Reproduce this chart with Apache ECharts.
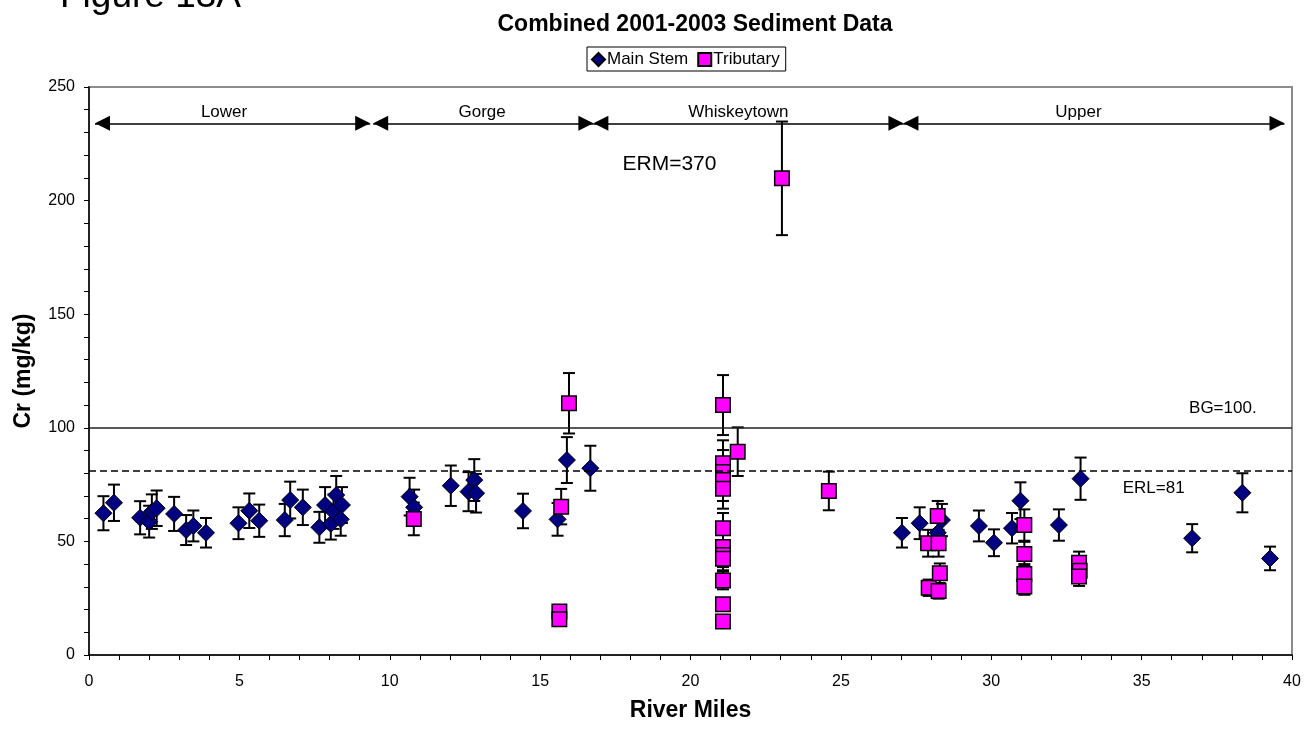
<!DOCTYPE html>
<html>
<head>
<meta charset="utf-8">
<title>Combined 2001-2003 Sediment Data</title>
<script src="https://cdn.jsdelivr.net/npm/echarts@6/dist/echarts.min.js"></script>
<style>
  html, body { margin: 0; padding: 0; background: #fff; }
  #main { width: 1306px; height: 735px; }
</style>
</head>
<body>
<div id="main"></div>
<script>
// Main Stem: river mile, Cr (mg/kg), +/- error
var msMiles = [0.48, 0.83, 1.70, 2.00, 2.09, 2.25, 2.83, 3.23, 3.47, 3.89, 4.97, 5.33, 5.66, 6.51, 6.69, 7.11, 7.66, 7.85, 8.04, 8.13, 8.22, 8.41, 8.37,
    10.66, 10.81, 12.03, 12.62, 12.81, 12.87, 14.43, 15.58, 15.89, 16.67,
    27.03, 27.62, 28.22, 28.36, 29.59, 30.09, 30.69, 30.97, 32.25, 32.97, 36.68, 38.35, 39.27];
var msCr = [62.4, 67.0, 60.4, 58.7, 63.1, 64.6, 62.1, 55.0, 56.8, 53.8, 58.0, 63.5, 59.1, 59.4, 68.2, 65.0, 56.2, 66.0, 57.7, 63.1, 70.4, 66.0, 59.7,
    69.7, 65.0, 74.5, 71.9, 77.0, 71.2, 63.4, 59.7, 85.8, 82.2,
    53.8, 58.0, 53.8, 59.4, 56.8, 49.4, 55.8, 67.9, 57.2, 77.6, 51.4, 71.4, 42.5];
var msErr = [7.5, 8.0, 7.3, 7.0, 7.6, 7.8, 7.5, 6.6, 6.8, 6.5, 7.0, 7.6, 7.1, 7.1, 8.1, 7.8, 6.8, 7.9, 6.9, 7.6, 8.4, 7.9, 7.2,
    8.3, 7.8, 8.9, 8.6, 9.2, 8.5, 7.6, 7.2, 10.1, 9.9,
    6.5, 7.0, 6.5, 7.1, 6.8, 5.9, 6.7, 8.1, 6.9, 9.3, 6.2, 8.6, 5.2];

// Tributary: river mile, Cr (mg/kg), +/- error
var trMiles = [10.80, 15.64, 15.64, 15.70, 15.96,
    21.08, 21.08, 21.08, 21.08, 21.08, 21.08, 21.08, 21.08, 21.08, 21.08, 21.08, 21.08,
    21.57, 23.04, 24.60,
    27.92, 27.90, 28.22, 28.25, 28.25, 28.29,
    31.10, 31.10, 31.10, 31.10, 32.92, 32.94, 32.92];
var trCr = [59.9, 19.1, 15.7, 65.3, 110.8,
    110.0, 84.4, 80.5, 77.0, 73.2, 55.8, 47.5, 44.0, 42.4, 32.8, 22.3, 14.7,
    89.5, 209.8, 72.2,
    29.6, 49.2, 61.2, 49.2, 28.2, 36.0,
    57.2, 44.5, 35.7, 30.1, 40.6, 37.1, 34.5];
var trErr = [7.2, 2.3, 1.9, 7.8, 13.3,
    13.2, 10.1, 9.7, 9.2, 8.8, 6.7, 5.7, 5.3, 5.1, 3.9, 2.7, 1.8,
    10.7, 25.0, 8.5,
    3.6, 5.9, 6.6, 5.9, 3.4, 4.3,
    6.9, 5.3, 4.3, 3.6, 4.9, 4.5, 4.1];

// reach arrows along the top
var regionNames = ['Lower', 'Gorge', 'Whiskeytown', 'Upper'];
var regionStart = [0.2, 9.45, 16.77, 27.08];
var regionEnd = [9.35, 16.77, 27.08, 39.75];
var regionLabelX = [4.49, 13.07, 21.59, 32.9];
var regionLevel = 234;
var regionLabelY = 239;

// reference lines
var bgLevel = 100;
var erlLevel = 81;

// text notes on the plot
var noteText = ['ERM=370', 'BG=100.', 'ERL=81'];
var noteX = [19.3, 37.7, 35.4];
var noteY = [216, 108.5, 73.5];
var noteSize = [21, 17, 17];

var chart = echarts.init(document.getElementById('main'));
var FONT = 'Arial, "Liberation Sans", sans-serif';

function pairs(xs, ys) {
    return xs.map(function (x, i) { return [x, ys[i]]; });
}
function errData(xs, ys, es) {
    return xs.map(function (x, i) { return [x, ys[i] - es[i], ys[i] + es[i]]; });
}

function renderErr(params, api) {
    var x = api.value(0);
    var lo = api.coord([x, api.value(1)]);
    var hi = api.coord([x, api.value(2)]);
    var w = 6;
    var st = { stroke: '#000', lineWidth: 2 };
    return {
        type: 'group',
        children: [
            { type: 'line', shape: { x1: lo[0], y1: lo[1], x2: hi[0], y2: hi[1] }, style: st },
            { type: 'line', shape: { x1: lo[0] - w, y1: lo[1], x2: lo[0] + w, y2: lo[1] }, style: st },
            { type: 'line', shape: { x1: hi[0] - w, y1: hi[1], x2: hi[0] + w, y2: hi[1] }, style: st }
        ]
    };
}

var arrows = regionNames.map(function (n, i) {
    return [{ coord: [regionStart[i], regionLevel] }, { coord: [regionEnd[i], regionLevel] }];
});

var notes = noteText.map(function (t, i) {
    return { value: [noteX[i], noteY[i]], name: t, label: { fontSize: noteSize[i] } };
}).concat(regionNames.map(function (n, i) {
    return { value: [regionLabelX[i], regionLabelY], name: n, label: { fontSize: 17 } };
}));

var option = {
    animation: false,
    backgroundColor: '#fff',
    textStyle: { fontFamily: FONT, color: '#000' },
    title: {
        text: 'Combined 2001-2003 Sediment Data',
        left: 690, top: 8, textAlign: 'center',
        textStyle: { fontSize: 23, fontWeight: 'bold', color: '#000', fontFamily: FONT }
    },
    graphic: [{
        type: 'text', left: 60, top: -22,
        style: { text: 'Figure 13A', fontSize: 37, fill: '#000', fontFamily: FONT }
    }],
    legend: {
        left: 587, top: 47,
        data: ['Main Stem', 'Tributary'],
        borderColor: '#000', borderWidth: 1, borderRadius: 0,
        padding: [4, 6, 3, 4], itemGap: 9, itemWidth: 13, itemHeight: 13,
        textStyle: { fontSize: 17, color: '#000', padding: [0, 0, 0, -3] }
    },
    grid: {
        left: 89, top: 87, width: 1203, height: 568,
        show: true, borderColor: '#8c8c8c', borderWidth: 2
    },
    xAxis: {
        type: 'value', min: 0, max: 40, interval: 5,
        name: 'River Miles', nameLocation: 'middle', nameGap: 44,
        nameTextStyle: { fontSize: 23, fontWeight: 'bold', color: '#000' },
        axisLine: { lineStyle: { color: '#000', width: 1.5 } },
        axisTick: { show: true, length: 5, lineStyle: { color: '#000' } },
        minorTick: { show: true, splitNumber: 5, length: 5, lineStyle: { color: '#000' } },
        axisLabel: { fontSize: 16, color: '#000', margin: 19 },
        splitLine: { show: false }
    },
    yAxis: {
        type: 'value', min: 0, max: 250, interval: 50,
        name: 'Cr (mg/kg)', nameLocation: 'middle', nameGap: 54, nameRotate: 90,
        nameTextStyle: { fontSize: 23, fontWeight: 'bold', color: '#000' },
        axisLine: { show: true, lineStyle: { color: '#000', width: 1.5 } },
        axisTick: { show: true, length: 5, lineStyle: { color: '#000' } },
        minorTick: { show: true, splitNumber: 5, length: 5, lineStyle: { color: '#000' } },
        axisLabel: { fontSize: 16, color: '#000', margin: 14 },
        splitLine: { show: false }
    },
    series: [
        {
            name: 'notes', type: 'scatter', symbolSize: 0, silent: true,
            itemStyle: { opacity: 1 },
            data: notes,
            label: {
                show: true, position: 'inside', formatter: '{b}', color: '#000', fontSize: 16,
                textBorderWidth: 0, textBorderColor: 'transparent', opacity: 1
            },
            markLine: {
                silent: true, symbol: 'none', animation: false,
                label: { show: false },
                data: [
                    { yAxis: bgLevel, lineStyle: { color: '#222', width: 1.5, type: 'solid' } },
                    { yAxis: erlLevel, lineStyle: { color: '#000', width: 1.5, type: [7, 4] } }
                ]
            }
        },
        {
            name: 'reaches', type: 'line', data: [], silent: true,
            markLine: {
                silent: true, animation: false,
                symbol: ['triangle', 'triangle'], symbolSize: [15, 15],
                symbolOffset: [[0, 7.5], [0, 7.5]],
                lineStyle: { color: '#000', width: 1.5, type: 'solid' },
                label: { show: false },
                data: arrows
            }
        },
        {
            name: 'msErr', type: 'custom', renderItem: renderErr, z: 1, silent: true,
            data: errData(msMiles, msCr, msErr)
        },
        {
            name: 'trErr', type: 'custom', renderItem: renderErr, z: 1, silent: true,
            data: errData(trMiles, trCr, trErr)
        },
        {
            name: 'Main Stem', type: 'scatter', symbol: 'diamond', symbolSize: 17, z: 3,
            itemStyle: { color: '#000080', borderColor: '#000', borderWidth: 1, opacity: 1 },
            data: pairs(msMiles, msCr)
        },
        {
            name: 'Tributary', type: 'scatter', symbol: 'rect', symbolSize: 14.5, z: 4,
            itemStyle: { color: '#ff00ff', borderColor: '#000', borderWidth: 1.5, opacity: 1 },
            data: pairs(trMiles, trCr)
        }
    ]
};

chart.setOption(option);
</script>
</body>
</html>
